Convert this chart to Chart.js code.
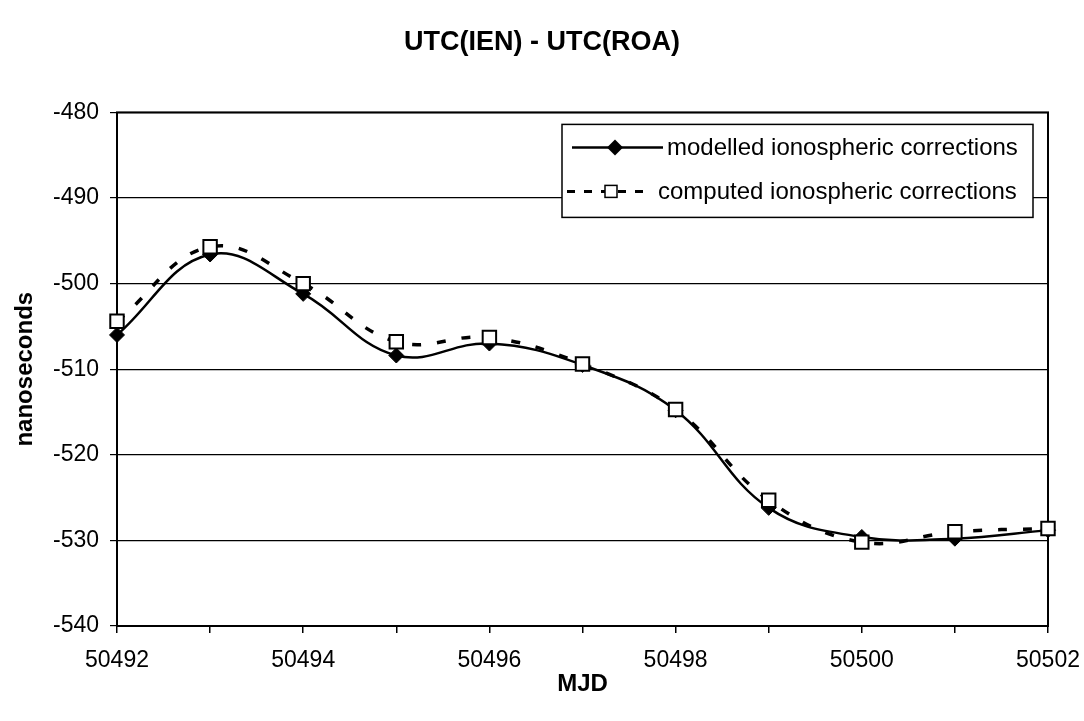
<!DOCTYPE html>
<html>
<head>
<meta charset="utf-8">
<title>UTC(IEN) - UTC(ROA)</title>
<script src="https://cdn.jsdelivr.net/npm/chart.js@4.4.1/dist/chart.umd.min.js"></script>
<style>
  html, body { margin: 0; padding: 0; background: #fff; }
</style>
</head>
<body>
<canvas id="chart" width="1084" height="721"></canvas>
<script>
// values
const mjd = [50492, 50493, 50494, 50495, 50496, 50497, 50498, 50499, 50500, 50501, 50502];
const modelled = [-506.0, -496.6, -501.2, -508.4, -507.0, -509.5, -514.8, -526.2, -529.6, -529.8, -528.8];
const computed = [-504.4, -495.7, -500.0, -506.8, -506.3, -509.4, -514.7, -525.3, -530.2, -529.0, -528.6];
const xLabels = [50492, 50494, 50496, 50498, 50500, 50502];
const yTicks = [-540, -530, -520, -510, -500, -490, -480];
const seriesNames = ['modelled ionospheric corrections', 'computed ionospheric corrections'];

const FONT = "'Liberation Sans', Arial, sans-serif";

// frame round the plot area (Excel style)
const plotFrame = {
    id: 'plotFrame',
    beforeDatasetsDraw(chart) {
        const { ctx, chartArea: a } = chart;
        ctx.save();
        ctx.strokeStyle = '#000';
        ctx.lineWidth = 2;
        ctx.strokeRect(a.left, a.top, a.right - a.left, a.bottom - a.top);
        ctx.restore();
    }
};

// boxed legend inside the plot, top right
const boxLegend = {
    id: 'boxLegend',
    afterDraw(chart) {
        const { ctx, chartArea: a } = chart;
        const x0 = a.left + 445, y0 = a.top + 12, w = 471, h = 93;
        ctx.save();
        ctx.fillStyle = '#fff';
        ctx.fillRect(x0, y0, w, h);
        ctx.strokeStyle = '#000';
        ctx.lineWidth = 1.5;
        ctx.strokeRect(x0, y0, w, h);

        ctx.font = '24px ' + FONT;
        ctx.textBaseline = 'middle';
        ctx.fillStyle = '#000';

        // row 1: solid line + diamond
        let y = a.top + 35;
        ctx.lineWidth = 2.5;
        ctx.beginPath();
        ctx.moveTo(a.left + 455, y);
        ctx.lineTo(a.left + 546, y);
        ctx.stroke();
        const dx = a.left + 498, r = 8;
        ctx.beginPath();
        ctx.moveTo(dx - r, y); ctx.lineTo(dx, y - r); ctx.lineTo(dx + r, y); ctx.lineTo(dx, y + r);
        ctx.closePath();
        ctx.fill();
        ctx.fillText(seriesNames[0], a.left + 550, y + 1);

        // row 2: dashed line + open square
        y = a.top + 79;
        ctx.lineWidth = 3;
        ctx.setLineDash([8, 9]);
        ctx.beginPath();
        ctx.moveTo(a.left + 450, y);
        ctx.lineTo(a.left + 534, y);
        ctx.stroke();
        ctx.setLineDash([]);
        const sx = a.left + 494, s = 6;
        ctx.fillStyle = '#fff';
        ctx.fillRect(sx - s, y - s, 2 * s, 2 * s);
        ctx.lineWidth = 1.5;
        ctx.strokeRect(sx - s, y - s, 2 * s, 2 * s);
        ctx.fillStyle = '#000';
        ctx.fillText(seriesNames[1], a.left + 541, y + 1);
        ctx.restore();
    }
};

new Chart(document.getElementById('chart'), {
    type: 'line',
    data: {
        datasets: [{
            label: seriesNames[1],
            data: mjd.map((x, i) => ({ x: x, y: computed[i] })),
            borderColor: '#000',
            borderWidth: 3.5,
            borderDash: [9, 16],
            tension: 0.4,
            pointStyle: 'rect',
            pointRadius: 9.5,
            pointBackgroundColor: '#fff',
            pointBorderColor: '#000',
            pointBorderWidth: 2,
            clip: false,
            order: 0
        }, {
            label: seriesNames[0],
            data: mjd.map((x, i) => ({ x: x, y: modelled[i] })),
            borderColor: '#000',
            borderWidth: 2.5,
            tension: 0.4,
            pointStyle: 'rectRot',
            pointRadius: 7.5,
            pointBackgroundColor: '#000',
            pointBorderColor: '#000',
            pointBorderWidth: 1,
            clip: false,
            order: 1
        }]
    },
    options: {
        responsive: false,
        animation: false,
        layout: { padding: 0 },
        plugins: {
            legend: { display: false },
            tooltip: { enabled: false },
            title: {
                display: true,
                text: 'UTC(IEN) - UTC(ROA)',
                color: '#000',
                font: { family: FONT, size: 27, weight: 'bold' },
                padding: { top: 26, bottom: 54 }
            }
        },
        scales: {
            x: {
                type: 'linear',
                min: mjd[0],
                max: mjd[mjd.length - 1],
                afterFit(scale) {
                    scale.height = 95;
                    scale.paddingRight = 36;
                },
                afterBuildTicks(scale) {
                    scale.ticks = mjd.map(v => ({ value: v }));
                },
                ticks: {
                    autoSkip: false,
                    maxRotation: 0,
                    padding: 14,
                    color: '#000',
                    font: { family: FONT, size: 23 },
                    callback: v => xLabels.includes(v) ? String(v) : ''
                },
                grid: {
                    display: true,
                    drawOnChartArea: false,
                    drawTicks: true,
                    tickLength: 7,
                    color: '#000',
                    lineWidth: 1.5
                },
                border: { display: false },
                title: {
                    display: true,
                    text: 'MJD',
                    color: '#000',
                    font: { family: FONT, size: 24, weight: 'bold' },
                    padding: { top: 4, bottom: 22 }
                }
            },
            y: {
                min: -540,
                max: -480,
                afterFit(scale) { scale.width = 117; },
                afterBuildTicks(scale) {
                    scale.ticks = yTicks.map(v => ({ value: v }));
                },
                ticks: {
                    padding: 11,
                    color: '#000',
                    font: { family: FONT, size: 23 },
                    callback: v => String(v)
                },
                grid: {
                    color: '#000',
                    lineWidth: 1.2,
                    tickLength: 7
                },
                border: { display: false },
                title: {
                    display: true,
                    text: 'nanoseconds',
                    color: '#000',
                    font: { family: FONT, size: 24, weight: 'bold' },
                    padding: { top: 11, bottom: 4 }
                }
            }
        }
    },
    plugins: [plotFrame, boxLegend]
});
</script>
</body>
</html>
